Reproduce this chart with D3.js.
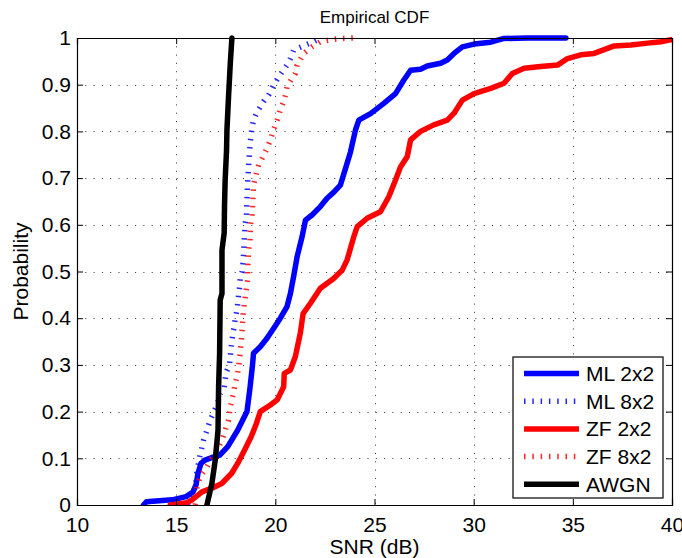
<!DOCTYPE html>
<html>
<head>
<meta charset="utf-8">
<script src="https://cdn.jsdelivr.net/npm/d3@7"></script>
<style>
  html, body { margin: 0; padding: 0; background: #fff; }
  svg { display: block; font-family: "Liberation Sans", Arial, Helvetica, sans-serif; }
</style>
</head>
<body>
<svg id="chart" width="682" height="558"></svg>
<script>
// Empirical CDF samples: [SNR (dB), probability]
const ml2x2 = [
  [13.35,0],[13.5,0.007],[14.8,0.011],[15.5,0.018],[15.85,0.028],[16.0,0.043],[16.1,0.068],
  [16.25,0.089],[16.45,0.096],[16.9,0.103],[17.2,0.107],[17.6,0.125],[18.1,0.16],[18.57,0.2],
  [18.72,0.25],[18.85,0.3],[18.9,0.325],[19.24,0.339],[19.58,0.357],[19.91,0.378],[20.25,0.4],
  [20.59,0.425],[20.76,0.453],[20.92,0.489],[21.1,0.532],[21.35,0.575],[21.52,0.61],[21.85,0.621],
  [22.27,0.639],[22.61,0.657],[22.95,0.67],[23.28,0.685],[23.62,0.732],[23.79,0.756],[24.04,0.803],
  [24.21,0.824],[24.5,0.831],[24.8,0.838],[25.47,0.86],[26.06,0.881],[26.48,0.91],[26.82,0.931],
  [27.32,0.933],[27.66,0.94],[28.33,0.946],[28.67,0.953],[29.01,0.967],[29.43,0.981],[30.02,0.987],
  [30.86,0.991],[31.53,0.999],[32.71,1.0],[34.65,1.0]
];
const ml8x2 = [
  [15.6,0],[15.85,0.02],[16.0,0.05],[16.05,0.075],[16.13,0.089],[16.21,0.107],[16.38,0.139],
  [16.55,0.16],[16.72,0.182],[17.06,0.214],[17.22,0.239],[17.42,0.25],[17.47,0.268],[17.53,0.285],
  [17.69,0.3],[17.73,0.318],[17.76,0.332],[17.81,0.35],[17.86,0.368],[17.93,0.382],[17.98,0.4],
  [18.07,0.418],[18.15,0.45],[18.2,0.467],[18.23,0.485],[18.33,0.5],[18.37,0.518],[18.4,0.539],
  [18.43,0.567],[18.48,0.603],[18.54,0.617],[18.57,0.653],[18.6,0.685],[18.62,0.703],[18.65,0.724],
  [18.7,0.757],[18.74,0.778],[18.82,0.807],[18.9,0.824],[19.08,0.842],[19.41,0.864],[19.66,0.878],
  [19.91,0.899],[20.17,0.917],[20.59,0.942],[20.76,0.956],[20.92,0.974],[21.52,0.985],[21.93,0.992],
  [22.27,1.0]
];
const zf2x2 = [
  [14.7,0],[15.2,0.003],[15.54,0.005],[15.8,0.011],[16.3,0.028],[16.8,0.036],[17.3,0.046],
  [17.8,0.068],[18.1,0.089],[18.45,0.118],[18.78,0.146],[19.05,0.175],[19.24,0.2],[19.75,0.214],
  [20.09,0.225],[20.42,0.253],[20.45,0.282],[20.76,0.289],[21.01,0.318],[21.26,0.368],[21.4,0.41],
  [21.77,0.432],[22.27,0.464],[22.94,0.485],[23.37,0.503],[23.62,0.525],[23.96,0.575],[24.13,0.596],
  [24.63,0.614],[24.96,0.621],[25.3,0.628],[25.72,0.66],[26.06,0.696],[26.31,0.724],[26.65,0.746],
  [26.82,0.782],[27.32,0.8],[27.99,0.814],[28.67,0.824],[29.01,0.839],[29.43,0.867],[30.02,0.881],
  [30.86,0.892],[31.53,0.903],[31.95,0.924],[32.54,0.935],[33.38,0.939],[34.23,0.942],[34.73,0.956],
  [35.4,0.964],[36.07,0.967],[37.09,0.983],[37.93,0.985],[38.77,0.989],[39.44,0.992],[40.03,0.997]
];
const zf8x2 = [
  [15.96,0],[16.0,0.011],[16.05,0.039],[16.21,0.061],[16.55,0.082],[16.72,0.096],[17.06,0.118],
  [17.31,0.139],[17.47,0.16],[17.64,0.182],[17.73,0.21],[17.89,0.239],[17.98,0.26],[18.07,0.275],
  [18.15,0.296],[18.23,0.325],[18.3,0.36],[18.33,0.378],[18.37,0.407],[18.43,0.428],[18.54,0.464],
  [18.6,0.482],[18.62,0.514],[18.65,0.546],[18.72,0.564],[18.75,0.6],[18.82,0.621],[18.86,0.646],
  [18.88,0.667],[18.9,0.685],[18.99,0.7],[19.08,0.717],[19.16,0.728],[19.33,0.742],[19.58,0.764],
  [19.75,0.782],[19.91,0.803],[20.0,0.814],[20.09,0.824],[20.25,0.846],[20.42,0.864],[20.51,0.878],
  [20.59,0.896],[20.79,0.91],[21.01,0.924],[21.1,0.942],[21.43,0.967],[21.85,0.981],[22.27,0.992],
  [22.78,0.996],[23.28,0.999],[23.96,1.0]
];
const awgn = [
  [16.55,0],[16.8,0.046],[16.97,0.096],[17.11,0.16],[17.14,0.253],[17.19,0.325],[17.22,0.439],
  [17.31,0.453],[17.31,0.546],[17.42,0.582],[17.44,0.646],[17.47,0.696],[17.54,0.76],[17.56,0.803],
  [17.64,0.874],[17.73,0.946],[17.81,1.0]
];

const seriesNames = ["ML 2x2", "ML 8x2", "ZF 2x2", "ZF 8x2", "AWGN"];
const seriesData = [ml2x2, ml8x2, zf2x2, zf8x2, awgn];
const seriesColors = ["#0000ff", "#0000ff", "#ff0000", "#ff0000", "#000000"];
const seriesDotted = [false, true, false, true, false];

const xTicks = [10, 15, 20, 25, 30, 35, 40];
const yTicks = [0, 0.1, 0.2, 0.3, 0.4, 0.5, 0.6, 0.7, 0.8, 0.9, 1];

const chartTitle = "Empirical CDF";
const xLabel = "SNR (dB)";
const yLabel = "Probability";

// Layout
const margin = { left: 77, right: 10, top: 38, bottom: 53 };
const W = 682, H = 558;
const iw = W - margin.left - margin.right;
const ih = H - margin.top - margin.bottom;

const svg = d3.select("#chart");
const g = svg.append("g").attr("transform", `translate(${margin.left},${margin.top})`);

const x = d3.scaleLinear().domain([10, 40]).range([0, iw]);
const y = d3.scaleLinear().domain([0, 1]).range([ih, 0]);

// Dotted grid
const grid = g.append("g").attr("stroke", "#333").attr("stroke-width", 1).attr("stroke-dasharray", "1,7.3");
grid.selectAll("line.vx").data(xTicks.slice(1, -1)).join("line")
  .attr("x1", d => Math.round(x(d)) + 0.5).attr("x2", d => Math.round(x(d)) + 0.5)
  .attr("y1", 0).attr("y2", ih);
grid.selectAll("line.hy").data(yTicks.slice(1, -1)).join("line")
  .attr("y1", d => Math.round(y(d)) + 0.5).attr("y2", d => Math.round(y(d)) + 0.5)
  .attr("x1", 0).attr("x2", iw);

// Curves
g.append("clipPath").attr("id", "plotclip").append("rect")
  .attr("x", 0).attr("y", -4).attr("width", iw).attr("height", ih + 4);

const line = d3.line().x(d => x(d[0])).y(d => y(d[1]));
const curves = g.append("g").attr("clip-path", "url(#plotclip)");
seriesData.forEach((data, i) => {
  curves.append("path")
    .datum(data)
    .attr("d", line)
    .attr("fill", "none")
    .attr("stroke", seriesColors[i])
    .attr("stroke-width", 5.5)
    .attr("stroke-linejoin", "round")
    .attr("stroke-linecap", seriesDotted[i] ? "butt" : "round")
    .attr("stroke-dasharray", seriesDotted[i] ? "1.5,6.8" : null)
    .attr("stroke-opacity", seriesDotted[i] ? 0.85 : 1);
});

// Axes with inward ticks on all four sides
const tickLen = 6;
const fontSize = 21;
const xAxis = g.append("g").attr("transform", `translate(0,${ih})`)
  .call(d3.axisBottom(x).tickValues(xTicks).tickSize(-tickLen).tickPadding(12.5).tickFormat(d3.format("d")));
const yAxis = g.append("g")
  .call(d3.axisLeft(y).tickValues(yTicks).tickSize(-tickLen).tickPadding(6).tickFormat(d => d3.format("")(d)));
const xTop = g.append("g")
  .call(d3.axisTop(x).tickValues(xTicks).tickSize(-tickLen).tickFormat(""));
const yRight = g.append("g").attr("transform", `translate(${iw},0)`)
  .call(d3.axisRight(y).tickValues(yTicks).tickSize(-tickLen).tickFormat(""));

[xAxis, yAxis, xTop, yRight].forEach(a => {
  a.select(".domain").attr("stroke", "#000").attr("stroke-width", 1.2);
  a.selectAll(".tick line").attr("stroke", "#000");
  a.selectAll("text").attr("font-size", fontSize).attr("fill", "#000")
    .attr("font-family", '"Liberation Sans", Arial, sans-serif');
});

// Titles
svg.append("text")
  .attr("x", margin.left + iw / 2).attr("y", 23)
  .attr("text-anchor", "middle").attr("font-size", 17)
  .text(chartTitle);
svg.append("text")
  .attr("x", margin.left + iw / 2).attr("y", 554)
  .attr("text-anchor", "middle").attr("font-size", fontSize)
  .text(xLabel);
svg.append("text")
  .attr("transform", `translate(28,${margin.top + ih / 2}) rotate(-90)`)
  .attr("text-anchor", "middle").attr("font-size", fontSize)
  .text(yLabel);

// Legend
const legend = svg.append("g").attr("transform", "translate(513,357)");
legend.append("rect")
  .attr("x", 0).attr("y", 0).attr("width", 150).attr("height", 141)
  .attr("fill", "#fff").attr("stroke", "#000").attr("stroke-width", 1.2);
const rowH = 27.7;
seriesNames.forEach((name, i) => {
  const cy = 16.5 + i * rowH;
  legend.append("line")
    .attr("x1", 11).attr("x2", 66).attr("y1", cy).attr("y2", cy)
    .attr("stroke", seriesColors[i]).attr("stroke-width", 5.5)
    .attr("stroke-dasharray", seriesDotted[i] ? "1.5,6.8" : null)
    .attr("stroke-opacity", seriesDotted[i] ? 0.85 : 1);
  legend.append("text")
    .attr("x", 73).attr("y", cy).attr("dy", "0.36em")
    .attr("font-size", fontSize).text(name);
});
</script>
</body>
</html>
